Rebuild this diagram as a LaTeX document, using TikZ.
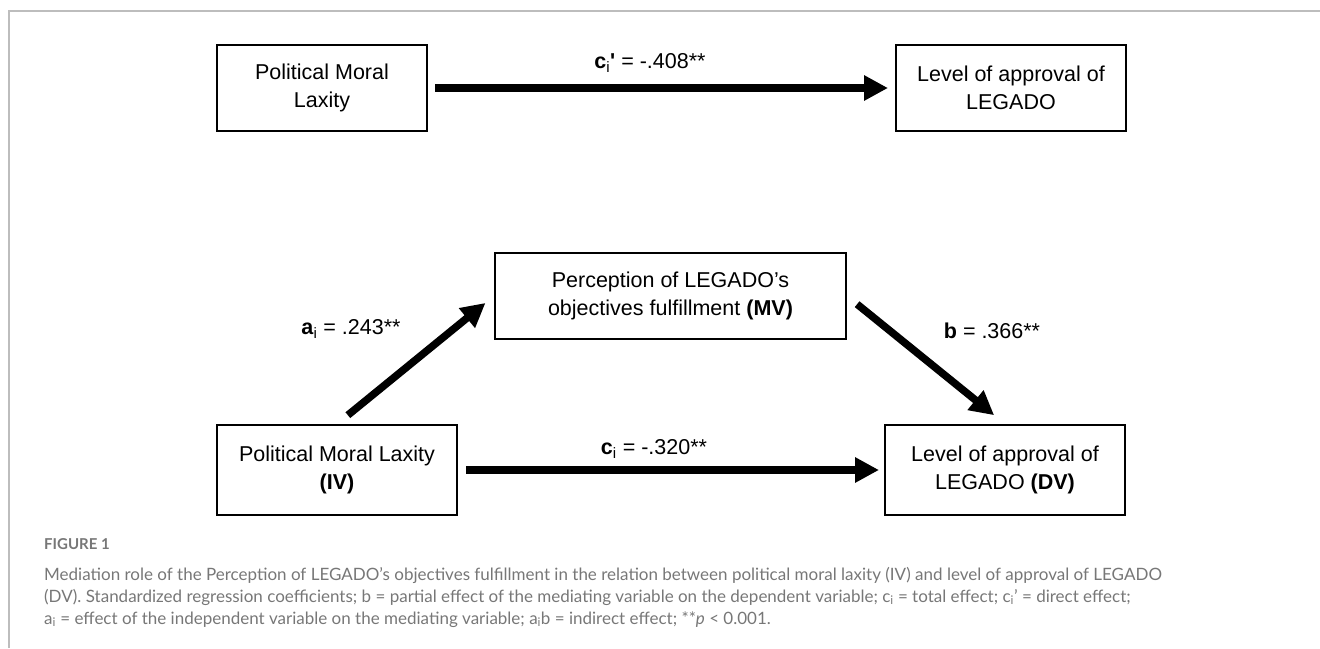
\documentclass[tikz,border=0pt]{standalone}
\usepackage{fontspec}
\setmainfont{Liberation Sans}
\newfontfamily\capfont{Lato}
\usetikzlibrary{arrows.meta,calc}
\definecolor{capgray}{HTML}{777777}
\definecolor{framegray}{HTML}{BDBDBD}
\begin{document}
\begin{tikzpicture}[x=1pt,y=-1pt,
  varbox/.style={draw=black, line width=2pt, align=center, inner sep=0pt,
    font=\fontsize{21.5}{28}\selectfont, minimum height=86pt},
  conn/.style={line width=7.5pt, -{Triangle[length=24pt,width=24pt]}},
  coef/.style={font=\fontsize{21.5}{26}\selectfont, inner sep=0pt},
  captext/.style={font=\capfont\fontsize{17}{22}\selectfont, text=capgray, inner sep=0pt, anchor=base west}
]
\useasboundingbox (0,0) rectangle (1320,648);
% frame
\draw[framegray, line width=1.5pt] (9,648) -- (9,11) -- (1320,11);

% top model
\node[varbox, minimum width=210pt] (b1) at (322,88) {Political Moral\\Laxity};
\node[varbox, minimum width=230pt] (b2) at (1011,88) {Level of approval of\\LEGADO};
\draw[conn, shorten <=7pt, shorten >=7pt] (b1) -- (b2);
\node[coef] (lc1) at (650,63) {\textbf{c}\textsubscript{i}\textbf{\textquotesingle} = -.408**};

% mediation model
\node[varbox, minimum width=351pt] (mv) at (670.5,296) {Perception of LEGADO’s\\objectives fulfillment \textbf{(MV)}};
\node[varbox, minimum width=240pt, minimum height=90pt] (iv) at (337,470) {Political Moral Laxity\\\textbf{(IV)}};
\node[varbox, minimum width=240pt, minimum height=90pt] (dv) at (1005,470) {Level of approval of\\LEGADO \textbf{(DV)}};

\draw[conn, shorten <=8pt, shorten >=5pt] (iv) -- (dv);
\draw[conn, shorten <=14pt, shorten >=11pt] (iv.north) -- (mv.west);
\draw[conn, shorten <=13pt, shorten >=14pt] (mv.east) -- (dv.north);

\node[coef] (lc) at (654,449) {\textbf{c}\textsubscript{i} = -.320**};
\node[coef] (la) at (351,329) {\textbf{a}\textsubscript{i} = .243**};
\node[coef] (lb) at (992,331) {\textbf{b} = .366**};

% caption
\node[captext, font=\capfont\bfseries\fontsize{15}{18}\selectfont] (fig) at (44,549) {FIGURE 1};
\node[captext] (cap1) at (44,580) {Mediation role of the Perception of LEGADO’s objectives fulfillment in the relation between political moral laxity (IV) and level of approval of LEGADO};
\node[captext] (cap2) at (44,602) {(DV). Standardized regression coefficients; b = partial effect of the mediating variable on the dependent variable; c\textsubscript{i} = total effect; c\textsubscript{i}’ = direct effect;};
\node[captext] (cap3) at (44,624) {a\textsubscript{i} = effect of the independent variable on the mediating variable; a\textsubscript{i}b = indirect effect; **\textit{p} < 0.001.};
\end{tikzpicture}
\end{document}
